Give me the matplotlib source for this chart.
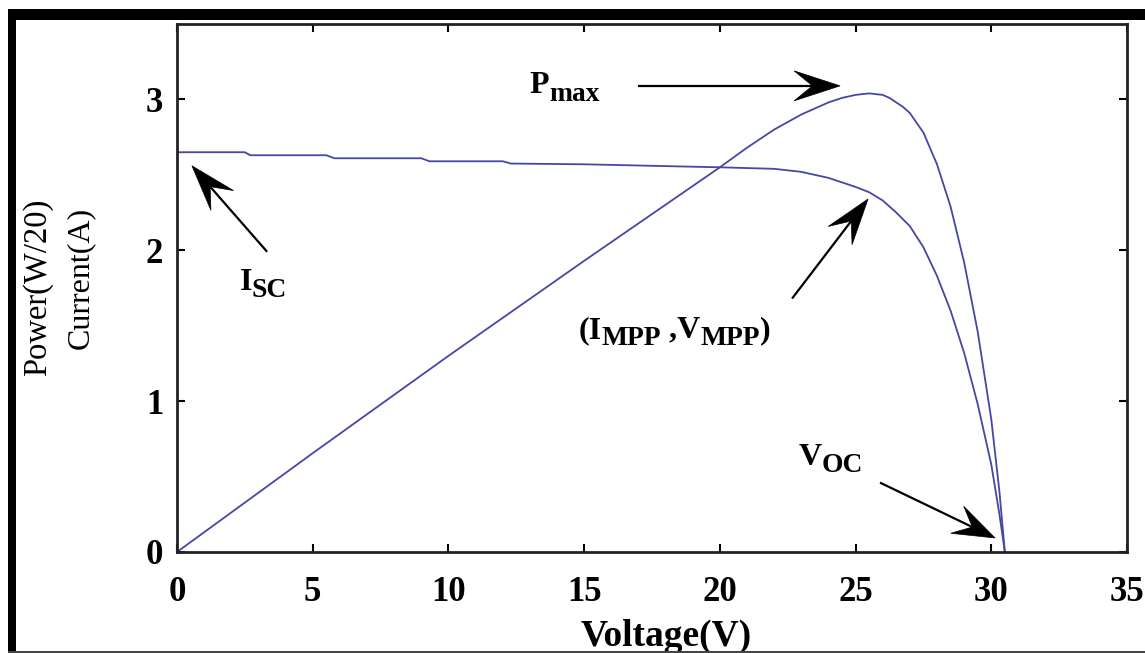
import matplotlib
matplotlib.use("Agg")
import matplotlib.pyplot as plt
from matplotlib.patches import Rectangle, Polygon
from matplotlib.transforms import IdentityTransform
import numpy as np

# ---- data ----
# I-V curve
voltage = [0.0, 2.5, 2.7, 5.5, 5.8, 9.0, 9.3, 12.0, 12.3, 15.0, 17.5, 20.0,
           22.0, 23.0, 24.0, 24.5, 25.0, 25.5, 26.0, 26.5, 27.0, 27.5, 28.0, 28.5,
           29.0, 29.5, 30.0, 30.3, 30.5]
current = [2.65, 2.65, 2.63, 2.63, 2.61, 2.61, 2.59, 2.59, 2.575, 2.57, 2.56, 2.55,
           2.54, 2.52, 2.48, 2.45, 2.42, 2.385, 2.33, 2.25, 2.16, 2.02, 1.83, 1.60,
           1.32, 0.98, 0.58, 0.25, 0.0]
# P-V curve (power / 20)
power_voltage = [0.0, 5.0, 10.0, 15.0, 20.0, 21.0, 22.0, 23.0, 24.0, 24.5, 25.0,
                 25.5, 26.0, 26.25, 26.5, 26.75, 27.0, 27.5, 28.0, 28.5, 29.0, 29.5,
                 30.0, 30.3, 30.5]
power_w20 = [0.0, 0.655, 1.30, 1.93, 2.55, 2.68, 2.80, 2.90, 2.98, 3.01, 3.03,
             3.04, 3.03, 3.01, 2.98, 2.95, 2.91, 2.78, 2.57, 2.29, 1.92, 1.46,
             0.88, 0.40, 0.0]
x_ticks = [0, 5, 10, 15, 20, 25, 30, 35]
y_ticks = [0, 1, 2, 3]
x_label = "Voltage(V)"
y_label_power = "Power(W/20)"
y_label_current = "Current(A)"

plt.rcParams['font.family'] = ['Liberation Serif', 'DejaVu Serif']

W, H = 1145, 653
fig = plt.figure(figsize=(W / 100, H / 100), dpi=100)
fig.patch.set_facecolor('white')

ax_l, ax_r, ax_t, ax_b = 177, 1127, 24, 552
ax = fig.add_axes([ax_l / W, (H - ax_b) / H, (ax_r - ax_l) / W, (ax_b - ax_t) / H])

line_color = '#4646a6'
ax.plot(voltage, current, color=line_color, lw=1.3)
ax.plot(power_voltage, power_w20, color=line_color, lw=1.3)

ax.set_xlim(0, 35)
ax.set_ylim(0, 3.5)
ax.set_xticks(x_ticks, labels=[str(t) for t in x_ticks], fontweight='bold')
ax.set_yticks(y_ticks, labels=[str(t) for t in y_ticks], fontweight='bold')
ax.tick_params(axis='both', direction='in', top=True, right=True,
               length=6, width=1.5, labelsize=25, colors='black')
ax.tick_params(axis='x', pad=17)
ax.tick_params(axis='y', pad=10)
for sp in ax.spines.values():
    sp.set_linewidth(2.0)
    sp.set_color('#222222')

ax.set_xlabel(x_label, fontsize=27, fontweight='bold')
ax.xaxis.set_label_coords(0.515, -0.178)
ax.xaxis.label.set_va('baseline')
fig.text(38 / W, 1 - 287 / H, y_label_power, rotation=90, ha='center', va='center',
         fontsize=23.5)
fig.text(80 / W, 1 - 278 / H, y_label_current, rotation=90, ha='center', va='center',
         fontsize=23)


def notched_arrow(tail, tip, L=46, Wd=15, notch=0.6):
    t0 = np.array(ax.transData.transform(tail))
    t1 = np.array(ax.transData.transform(tip))
    u = (t1 - t0) / np.linalg.norm(t1 - t0)
    n = np.array([-u[1], u[0]])
    back = t1 - L * u
    nt = t1 - notch * L * u
    inv = ax.transData.inverted().transform(nt)
    ax.plot([tail[0], inv[0]], [tail[1], inv[1]],
            color='black', lw=1.6, solid_capstyle='butt')
    poly = Polygon([t1, back + Wd * n, nt, back - Wd * n], closed=True,
                   facecolor='black', edgecolor='black', lw=0.5,
                   transform=IdentityTransform())
    fig.patches.append(poly)
    poly.set_figure(fig)


renderer = fig.canvas.get_renderer()


def seg_text(x, y, segments, size=23, sub_scale=0.86, sub_drop=0.24):
    offset = 0.0
    for s, is_sub in segments:
        fs = size * sub_scale if is_sub else size
        dy = -sub_drop * size if is_sub else 0.0
        t = ax.annotate(s, xy=(x, y), xycoords='data', xytext=(offset, dy),
                        textcoords='offset points', fontsize=fs, fontweight='bold',
                        ha='left', va='baseline')
        offset += t.get_window_extent(renderer).width * 72 / fig.dpi


notched_arrow((16.99, 3.09), (24.43, 3.09))
notched_arrow((3.32, 1.99), (0.55, 2.56))
notched_arrow((22.66, 1.68), (25.46, 2.34))
notched_arrow((25.9, 0.46), (30.14, 0.093), L=42)

seg_text(13.0, 3.04, [("P", False), ("max", True)])
seg_text(2.3, 1.74, [("I", False), ("SC", True)])
seg_text(14.8, 1.42, [("(I", False), ("MPP", True), (" ,V", False), ("MPP", True), (")", False)])
seg_text(22.9, 0.58, [("V", False), ("OC", True)])

# black screenshot frame
fig.patches.append(Rectangle((8 / W, 1 - 20 / H), 1 - 8 / W, 11 / H,
                             transform=fig.transFigure, facecolor='black', edgecolor='none'))
fig.patches.append(Rectangle((8 / W, 0), 8 / W, 1 - 9 / H,
                             transform=fig.transFigure, facecolor='black', edgecolor='none'))
fig.patches.append(Rectangle((8 / W, 0), 1 - 8 / W, 2 / H,
                             transform=fig.transFigure, facecolor='#444444', edgecolor='none'))

fig.savefig("out.png", dpi=100)
